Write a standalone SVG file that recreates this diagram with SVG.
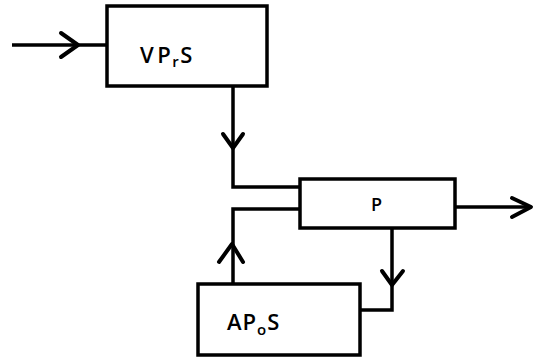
<svg xmlns="http://www.w3.org/2000/svg" width="535" height="361" viewBox="0 0 535 361">
<style>
.box{fill:none;stroke:#000;stroke-width:3.5}
.ln{fill:none;stroke:#000;stroke-width:3.5;stroke-linejoin:miter}
.ah{fill:none;stroke:#000;stroke-width:4;stroke-linecap:round;stroke-linejoin:round}
.t{font-family:"Open Sans","DejaVu Sans",sans-serif;font-weight:600;fill:#000}
</style>
<rect width="535" height="361" fill="#fff"/>
<g id="VPrS">
<rect class="box" x="107" y="6" width="160" height="80"/>
<text class="t" x="140" y="63" font-size="22" letter-spacing="1.5">V<tspan dx="2">P</tspan><tspan font-size="15" dy="4">r</tspan><tspan dy="-4">S</tspan></text>
</g>
<g id="P">
<rect class="box" x="300" y="179" width="155" height="49"/>
<text class="t" x="371" y="211" font-size="18">P</text>
</g>
<g id="APoS">
<rect class="box" x="198" y="284" width="162" height="71"/>
<text class="t" x="227" y="330" font-size="22" letter-spacing="1">AP<tspan font-size="15" dy="5">o</tspan><tspan dy="-5">S</tspan></text>
</g>
<g id="connectors">
<path class="ln" d="M12,45 H107"/>
<path class="ah" d="M61,33 L78,45 L61,57"/>
<path class="ln" d="M233,86 V187 H300"/>
<path class="ah" d="M223,134 L233,148 L243,134"/>
<path class="ln" d="M300,209 H233 V284"/>
<path class="ah" d="M219,262 L232,244 L243,262"/>
<path class="ln" d="M392,228 V310 H360"/>
<path class="ah" d="M382,271 L392,285 L403,271"/>
<path class="ln" d="M455,207 H531"/>
<path class="ah" d="M512,198 L531,207 L512,217"/>
</g>
</svg>
